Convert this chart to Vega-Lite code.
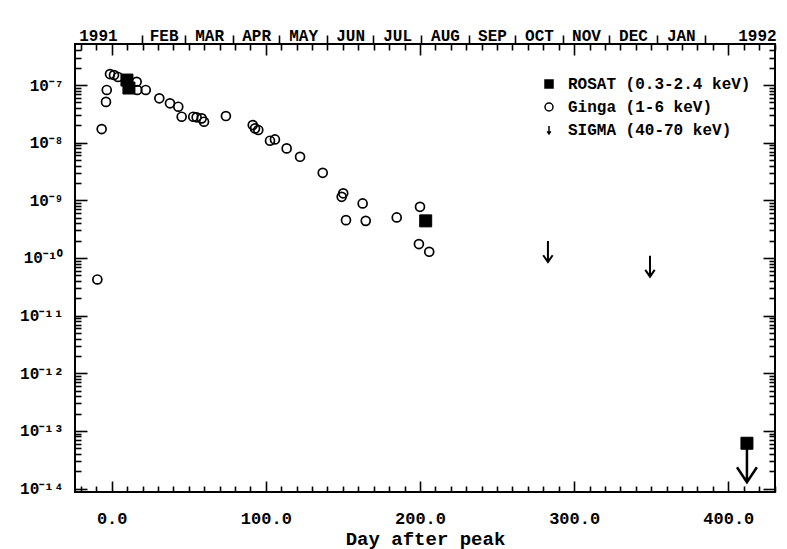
{
  "$schema": "https://vega.github.io/schema/vega-lite/v6.json",
  "width": 700,
  "height": 448,
  "autosize": "none",
  "padding": {"left": 75, "top": 44, "right": 12, "bottom": 57},
  "background": "white",
  "data": {
    "values": [
      {"day": -1.1, "flux": 1.55e-7, "series": "Ginga (1-6 keV)"},
      {"day": 1.5, "flux": 1.49e-7, "series": "Ginga (1-6 keV)"},
      {"day": 4.1, "flux": 1.38e-7, "series": "Ginga (1-6 keV)"},
      {"day": 16.2, "flux": 1.14e-7, "series": "Ginga (1-6 keV)"},
      {"day": 16.6, "flux": 8.2e-8, "series": "Ginga (1-6 keV)"},
      {"day": 22.1, "flux": 8.2e-8, "series": "Ginga (1-6 keV)"},
      {"day": -3.2, "flux": 8.2e-8, "series": "Ginga (1-6 keV)"},
      {"day": -3.7, "flux": 5.1e-8, "series": "Ginga (1-6 keV)"},
      {"day": -6.5, "flux": 1.72e-8, "series": "Ginga (1-6 keV)"},
      {"day": -9.3, "flux": 4.23e-11, "series": "Ginga (1-6 keV)"},
      {"day": 30.9, "flux": 5.88e-8, "series": "Ginga (1-6 keV)"},
      {"day": 37.8, "flux": 4.81e-8, "series": "Ginga (1-6 keV)"},
      {"day": 43.2, "flux": 4.2e-8, "series": "Ginga (1-6 keV)"},
      {"day": 45.4, "flux": 2.82e-8, "series": "Ginga (1-6 keV)"},
      {"day": 52.9, "flux": 2.82e-8, "series": "Ginga (1-6 keV)"},
      {"day": 55.1, "flux": 2.75e-8, "series": "Ginga (1-6 keV)"},
      {"day": 58.4, "flux": 2.64e-8, "series": "Ginga (1-6 keV)"},
      {"day": 59.9, "flux": 2.31e-8, "series": "Ginga (1-6 keV)"},
      {"day": 74.1, "flux": 2.9e-8, "series": "Ginga (1-6 keV)"},
      {"day": 91.5, "flux": 2.02e-8, "series": "Ginga (1-6 keV)"},
      {"day": 93.0, "flux": 1.77e-8, "series": "Ginga (1-6 keV)"},
      {"day": 95.1, "flux": 1.66e-8, "series": "Ginga (1-6 keV)"},
      {"day": 102.7, "flux": 1.08e-8, "series": "Ginga (1-6 keV)"},
      {"day": 105.9, "flux": 1.14e-8, "series": "Ginga (1-6 keV)"},
      {"day": 113.5, "flux": 7.96e-9, "series": "Ginga (1-6 keV)"},
      {"day": 122.2, "flux": 5.69e-9, "series": "Ginga (1-6 keV)"},
      {"day": 136.9, "flux": 3.0e-9, "series": "Ginga (1-6 keV)"},
      {"day": 149.2, "flux": 1.15e-9, "series": "Ginga (1-6 keV)"},
      {"day": 150.2, "flux": 1.32e-9, "series": "Ginga (1-6 keV)"},
      {"day": 162.8, "flux": 8.83e-10, "series": "Ginga (1-6 keV)"},
      {"day": 152.0, "flux": 4.53e-10, "series": "Ginga (1-6 keV)"},
      {"day": 164.8, "flux": 4.4e-10, "series": "Ginga (1-6 keV)"},
      {"day": 184.9, "flux": 5.05e-10, "series": "Ginga (1-6 keV)"},
      {"day": 200.0, "flux": 7.7e-10, "series": "Ginga (1-6 keV)"},
      {"day": 199.3, "flux": 1.74e-10, "series": "Ginga (1-6 keV)"},
      {"day": 206.0, "flux": 1.28e-10, "series": "Ginga (1-6 keV)"},
      {"day": 9.9, "flux": 1.22e-7, "series": "ROSAT (0.3-2.4 keV)"},
      {"day": 11.2, "flux": 8.87e-8, "series": "ROSAT (0.3-2.4 keV)"},
      {"day": 203.7, "flux": 4.4e-10, "series": "ROSAT (0.3-2.4 keV)"},
      {"day": 412.1, "flux": 6.1e-14, "series": "ROSAT (0.3-2.4 keV)"},
      {"day": 283.0, "flux": 1.29e-10, "series": "SIGMA (40-70 keV)"},
      {"day": 349.2, "flux": 7.2e-11, "series": "SIGMA (40-70 keV)"}
    ]
  },
  "resolve": {"axis": {"x": "independent", "y": "independent"}},
  "layer": [
    {
      "transform": [{"filter": "datum.series === 'Ginga (1-6 keV)'"}],
      "mark": {"type": "point", "filled": true, "size": 80, "strokeWidth": 1.7, "opacity": 1, "fillOpacity": 1, "strokeOpacity": 1},
      "encoding": {
        "x": {"field": "day", "type": "quantitative", "scale": {"domain": [-23.8, 430.3], "nice": false, "zero": false},
          "axis": {"orient": "bottom", "values": [0, 100, 200, 300, 400], "format": ".1f", "ticks": true, "tickColor": "#000000", "tickSize": -11, "tickWidth": 1.6, "domain": false, "grid": false, "labelPadding": 29, "labelFontSize": 17, "labelFlush": false, "labelOverlap": false, "title": "Day after peak", "titleFont": "Liberation Mono", "titleFontWeight": "bold", "titleFontSize": 19, "titleColor": "#000000", "titlePadding": 3}},
        "y": {"field": "flux", "type": "quantitative", "scale": {"type": "log", "domain": [8.7e-15, 5.15e-7], "nice": false, "zero": false},
          "axis": {"orient": "left", "values": [1e-14, 1e-13, 1e-12, 1e-11, 1e-10, 1e-9, 1e-8, 1e-7], "ticks": true, "tickColor": "#000000", "tickSize": -12, "tickWidth": 1.6, "domain": false, "grid": false, "labelPadding": 24, "labelFontSize": 16, "labelOverlap": false, "title": null,
            "labelExpr": "'10⁻' + (round(-log(datum.value)/LN10) >= 10 ? '¹' + substring('⁰¹²³⁴⁵⁶⁷⁸⁹', round(-log(datum.value)/LN10) - 10, round(-log(datum.value)/LN10) - 9) : substring('⁰¹²³⁴⁵⁶⁷⁸⁹', round(-log(datum.value)/LN10), round(-log(datum.value)/LN10) + 1))"}},
        "shape": {"field": "series", "type": "nominal",
          "scale": {"domain": ["ROSAT (0.3-2.4 keV)", "Ginga (1-6 keV)", "SIGMA (40-70 keV)"], "range": ["square", "circle", "M0,-1L0,1M-0.45,0.35L0,1L0.45,0.35"]},
          "legend": {"title": null, "orient": "none", "legendX": 466, "legendY": 32, "labelFont": "Liberation Mono", "labelFontWeight": "bold", "labelFontSize": 16, "labelColor": "#000000", "labelLimit": 400, "symbolSize": 64, "symbolStrokeWidth": 1.5, "rowPadding": 7, "labelOffset": 11, "padding": 0}},
        "fill": {"field": "series", "type": "nominal",
          "scale": {"domain": ["ROSAT (0.3-2.4 keV)", "Ginga (1-6 keV)", "SIGMA (40-70 keV)"], "range": ["black", "transparent", "transparent"]},
          "legend": {"title": null, "orient": "none", "legendX": 466, "legendY": 32, "labelFont": "Liberation Mono", "labelFontWeight": "bold", "labelFontSize": 16, "labelColor": "#000000", "labelLimit": 400, "symbolSize": 64, "symbolStrokeWidth": 1.5, "rowPadding": 7, "labelOffset": 11, "padding": 0}},
        "stroke": {"field": "series", "type": "nominal",
          "scale": {"domain": ["ROSAT (0.3-2.4 keV)", "Ginga (1-6 keV)", "SIGMA (40-70 keV)"], "range": ["black", "black", "black"]},
          "legend": {"title": null, "orient": "none", "legendX": 466, "legendY": 32, "labelFont": "Liberation Mono", "labelFontWeight": "bold", "labelFontSize": 16, "labelColor": "#000000", "labelLimit": 400, "symbolSize": 64, "symbolStrokeWidth": 1.5, "rowPadding": 7, "labelOffset": 11, "padding": 0}}
      }
    },
    {
      "transform": [{"filter": "datum.series === 'ROSAT (0.3-2.4 keV)'"}],
      "mark": {"type": "point", "filled": true, "size": 144, "strokeWidth": 1, "opacity": 1, "fillOpacity": 1, "strokeOpacity": 1},
      "encoding": {
        "x": {"field": "day", "type": "quantitative", "scale": {"domain": [-23.8, 430.3], "nice": false, "zero": false},
          "axis": {"orient": "bottom", "offset": -6, "values": [-20, -10, 10, 20, 30, 40, 50, 60, 70, 80, 90, 110, 120, 130, 140, 150, 160, 170, 180, 190, 210, 220, 230, 240, 250, 260, 270, 280, 290, 310, 320, 330, 340, 350, 360, 370, 380, 390, 410, 420, 430], "labels": false, "ticks": true, "tickColor": "#000000", "domain": false, "grid": false, "tickSize": 6, "tickWidth": 1.6, "title": null}},
        "y": {"field": "flux", "type": "quantitative", "scale": {"type": "log", "domain": [8.7e-15, 5.15e-7], "nice": false, "zero": false},
          "axis": {"orient": "left", "offset": -6, "values": [2e-14, 3e-14, 4e-14, 5e-14, 6e-14, 7e-14, 8e-14, 9e-14, 2e-13, 3e-13, 4e-13, 5e-13, 6e-13, 7e-13, 8e-13, 9e-13, 2e-12, 3e-12, 4e-12, 5e-12, 6e-12, 7e-12, 8e-12, 9e-12, 2e-11, 3e-11, 4e-11, 5e-11, 6e-11, 7e-11, 8e-11, 9e-11, 2e-10, 3e-10, 4e-10, 5e-10, 6e-10, 7e-10, 8e-10, 9e-10, 2e-9, 3e-9, 4e-9, 5e-9, 6e-9, 7e-9, 8e-9, 9e-9, 2e-8, 3e-8, 4e-8, 5e-8, 6e-8, 7e-8, 8e-8, 9e-8, 2e-7, 3e-7, 4e-7], "labels": false, "ticks": true, "tickColor": "#000000", "domain": false, "grid": false, "tickSize": 6, "tickWidth": 1.6, "title": null}},
        "shape": {"field": "series", "type": "nominal",
          "scale": {"domain": ["ROSAT (0.3-2.4 keV)", "Ginga (1-6 keV)", "SIGMA (40-70 keV)"], "range": ["square", "circle", "M0,-1L0,1M-0.45,0.35L0,1L0.45,0.35"]},
          "legend": {"title": null, "orient": "none", "legendX": 466, "legendY": 32, "labelFont": "Liberation Mono", "labelFontWeight": "bold", "labelFontSize": 16, "labelColor": "#000000", "labelLimit": 400, "symbolSize": 64, "symbolStrokeWidth": 1.5, "rowPadding": 7, "labelOffset": 11, "padding": 0}},
        "fill": {"field": "series", "type": "nominal",
          "scale": {"domain": ["ROSAT (0.3-2.4 keV)", "Ginga (1-6 keV)", "SIGMA (40-70 keV)"], "range": ["black", "transparent", "transparent"]},
          "legend": {"title": null, "orient": "none", "legendX": 466, "legendY": 32, "labelFont": "Liberation Mono", "labelFontWeight": "bold", "labelFontSize": 16, "labelColor": "#000000", "labelLimit": 400, "symbolSize": 64, "symbolStrokeWidth": 1.5, "rowPadding": 7, "labelOffset": 11, "padding": 0}},
        "stroke": {"field": "series", "type": "nominal",
          "scale": {"domain": ["ROSAT (0.3-2.4 keV)", "Ginga (1-6 keV)", "SIGMA (40-70 keV)"], "range": ["black", "black", "black"]},
          "legend": {"title": null, "orient": "none", "legendX": 466, "legendY": 32, "labelFont": "Liberation Mono", "labelFontWeight": "bold", "labelFontSize": 16, "labelColor": "#000000", "labelLimit": 400, "symbolSize": 64, "symbolStrokeWidth": 1.5, "rowPadding": 7, "labelOffset": 11, "padding": 0}}
      }
    },
    {
      "transform": [{"filter": "datum.series === 'SIGMA (40-70 keV)'"}],
      "mark": {"type": "point", "filled": true, "size": 441, "strokeWidth": 2, "opacity": 1, "fillOpacity": 1, "strokeOpacity": 1},
      "encoding": {
        "x": {"field": "day", "type": "quantitative", "scale": {"domain": [-23.8, 430.3], "nice": false, "zero": false},
          "axis": {"orient": "top", "values": [19.7, 47.7, 78.7, 108.7, 139.7, 169.7, 200.7, 231.7, 261.7, 292.7, 322.7, 353.7, 384.7], "labels": false, "ticks": true, "tickColor": "#000000", "domain": false, "grid": false, "tickSize": 9, "tickWidth": 1.6, "title": null}},
        "y": {"field": "flux", "type": "quantitative", "scale": {"type": "log", "domain": [8.7e-15, 5.15e-7], "nice": false, "zero": false},
          "axis": {"orient": "right", "offset": -12, "values": [1e-14, 1e-13, 1e-12, 1e-11, 1e-10, 1e-9, 1e-8, 1e-7], "labels": false, "ticks": true, "tickColor": "#000000", "domain": false, "grid": false, "tickSize": 12, "tickWidth": 1.6, "title": null}},
        "shape": {"field": "series", "type": "nominal",
          "scale": {"domain": ["ROSAT (0.3-2.4 keV)", "Ginga (1-6 keV)", "SIGMA (40-70 keV)"], "range": ["square", "circle", "M0,-1L0,1M-0.45,0.35L0,1L0.45,0.35"]},
          "legend": {"title": null, "orient": "none", "legendX": 466, "legendY": 32, "labelFont": "Liberation Mono", "labelFontWeight": "bold", "labelFontSize": 16, "labelColor": "#000000", "labelLimit": 400, "symbolSize": 64, "symbolStrokeWidth": 1.5, "rowPadding": 7, "labelOffset": 11, "padding": 0}},
        "fill": {"field": "series", "type": "nominal",
          "scale": {"domain": ["ROSAT (0.3-2.4 keV)", "Ginga (1-6 keV)", "SIGMA (40-70 keV)"], "range": ["black", "transparent", "transparent"]},
          "legend": {"title": null, "orient": "none", "legendX": 466, "legendY": 32, "labelFont": "Liberation Mono", "labelFontWeight": "bold", "labelFontSize": 16, "labelColor": "#000000", "labelLimit": 400, "symbolSize": 64, "symbolStrokeWidth": 1.5, "rowPadding": 7, "labelOffset": 11, "padding": 0}},
        "stroke": {"field": "series", "type": "nominal",
          "scale": {"domain": ["ROSAT (0.3-2.4 keV)", "Ginga (1-6 keV)", "SIGMA (40-70 keV)"], "range": ["black", "black", "black"]},
          "legend": {"title": null, "orient": "none", "legendX": 466, "legendY": 32, "labelFont": "Liberation Mono", "labelFontWeight": "bold", "labelFontSize": 16, "labelColor": "#000000", "labelLimit": 400, "symbolSize": 64, "symbolStrokeWidth": 1.5, "rowPadding": 7, "labelOffset": 11, "padding": 0}}
      }
    },
    {
      "transform": [{"filter": "datum.series === 'ROSAT (0.3-2.4 keV)' && datum.day > 400"}],
      "mark": {"type": "point", "shape": "M0,0L0,2M-0.51,1.23L0,2L0.51,1.23", "size": 1521, "filled": false, "stroke": "black", "strokeWidth": 2.5, "opacity": 1, "strokeOpacity": 1},
      "encoding": {
        "x": {"field": "day", "type": "quantitative", "scale": {"domain": [-23.8, 430.3], "nice": false, "zero": false},
          "axis": {"orient": "top", "offset": -6, "values": [-20, -10, 10, 20, 30, 40, 50, 60, 70, 80, 90, 110, 120, 130, 140, 150, 160, 170, 180, 190, 210, 220, 230, 240, 250, 260, 270, 280, 290, 310, 320, 330, 340, 350, 360, 370, 380, 390, 410, 420, 430], "labels": false, "ticks": true, "tickColor": "#000000", "domain": false, "grid": false, "tickSize": 6, "tickWidth": 1.6, "title": null}},
        "y": {"field": "flux", "type": "quantitative", "scale": {"type": "log", "domain": [8.7e-15, 5.15e-7], "nice": false, "zero": false},
          "axis": {"orient": "right", "offset": -6, "values": [2e-14, 3e-14, 4e-14, 5e-14, 6e-14, 7e-14, 8e-14, 9e-14, 2e-13, 3e-13, 4e-13, 5e-13, 6e-13, 7e-13, 8e-13, 9e-13, 2e-12, 3e-12, 4e-12, 5e-12, 6e-12, 7e-12, 8e-12, 9e-12, 2e-11, 3e-11, 4e-11, 5e-11, 6e-11, 7e-11, 8e-11, 9e-11, 2e-10, 3e-10, 4e-10, 5e-10, 6e-10, 7e-10, 8e-10, 9e-10, 2e-9, 3e-9, 4e-9, 5e-9, 6e-9, 7e-9, 8e-9, 9e-9, 2e-8, 3e-8, 4e-8, 5e-8, 6e-8, 7e-8, 8e-8, 9e-8, 2e-7, 3e-7, 4e-7], "labels": false, "ticks": true, "tickColor": "#000000", "domain": false, "grid": false, "tickSize": 6, "tickWidth": 1.6, "title": null}}
      }
    },
    {
      "mark": {"type": "point", "opacity": 0},
      "encoding": {
        "x": {"field": "day", "type": "quantitative", "scale": {"domain": [-23.8, 430.3], "nice": false, "zero": false},
          "axis": {"orient": "top", "offset": -11, "values": [0, 100, 200, 300, 400], "labels": false, "ticks": true, "tickColor": "#000000", "domain": false, "grid": false, "tickSize": 11, "tickWidth": 1.6, "title": null}},
        "y": {"field": "flux", "type": "quantitative", "scale": {"type": "log", "domain": [8.7e-15, 5.15e-7], "nice": false, "zero": false}, "axis": null}
      }
    },
    {
      "mark": {"type": "point", "opacity": 0},
      "encoding": {
        "x": {"field": "day", "type": "quantitative", "scale": {"domain": [-23.8, 430.3], "nice": false, "zero": false},
          "axis": {"orient": "top", "values": [-8.9, 33.7, 63.2, 93.7, 124.2, 154.7, 185.2, 216.2, 246.7, 277.2, 307.7, 338.2, 369.2, 418.6], "ticks": false, "domain": false, "grid": false, "labelPadding": 4, "labelBaseline": "alphabetic", "labelFontSize": 16, "labelFlush": false, "labelOverlap": false, "title": null,
            "labelExpr": "datum.value < 0 ? '1991' : datum.value < 40 ? 'FEB' : datum.value < 70 ? 'MAR' : datum.value < 100 ? 'APR' : datum.value < 130 ? 'MAY' : datum.value < 160 ? 'JUN' : datum.value < 200 ? 'JUL' : datum.value < 230 ? 'AUG' : datum.value < 260 ? 'SEP' : datum.value < 290 ? 'OCT' : datum.value < 320 ? 'NOV' : datum.value < 350 ? 'DEC' : datum.value < 400 ? 'JAN' : '1992'"}},
        "y": {"field": "flux", "type": "quantitative", "scale": {"type": "log", "domain": [8.7e-15, 5.15e-7], "nice": false, "zero": false}, "axis": null}
      }
    }
  ],
  "config": {
    "view": {"stroke": "#000000", "strokeWidth": 2},
    "axis": {"labelFont": "Liberation Mono", "labelFontWeight": "bold", "labelColor": "#000000"}
  }
}
